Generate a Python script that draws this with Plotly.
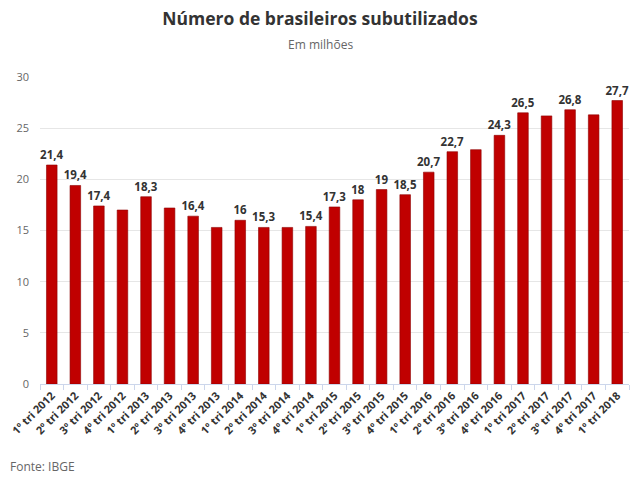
import plotly.graph_objects as go

categories = ["1º tri 2012", "2º tri 2012", "3º tri 2012", "4º tri 2012",
              "1º tri 2013", "2º tri 2013", "3º tri 2013", "4º tri 2013",
              "1º tri 2014", "2º tri 2014", "3º tri 2014", "4º tri 2014",
              "1º tri 2015", "2º tri 2015", "3º tri 2015", "4º tri 2015",
              "1º tri 2016", "2º tri 2016", "3º tri 2016", "4º tri 2016",
              "1º tri 2017", "2º tri 2017", "3º tri 2017", "4º tri 2017",
              "1º tri 2018"]
values = [21.4, 19.4, 17.4, 17.0,
          18.3, 17.2, 16.4, 15.3,
          16.0, 15.3, 15.3, 15.4,
          17.3, 18.0, 19.0, 18.5,
          20.7, 22.7, 22.9, 24.3,
          26.5, 26.2, 26.8, 26.3,
          27.7]
show_label = [1, 1, 1, 0,
              1, 0, 1, 0,
              1, 1, 0, 1,
              1, 1, 1, 1,
              1, 1, 0, 1,
              1, 0, 1, 0,
              1]
y_ticks = [0, 5, 10, 15, 20, 25, 30]

def fmt(v):
    return f"{v:g}".replace(".", ",")

labels = [fmt(v) if s else "" for v, s in zip(values, show_label)]

# page offset (default body margin) and figure size
O = 8
W, H = 640 - O, 479 - O
# plot area in page pixels -> figure pixels
L, R, T, B = 40 - O, 629 - O, 77 - O, 384 - O
PW, PH = R - L, B - T

fig = go.Figure()
fig.add_trace(go.Bar(
    x=categories, y=values,
    marker=dict(color="#c00000", line=dict(color="#8f0000", width=0.6)),
    text=labels, textposition="outside", cliponaxis=False,
    constraintext="none",
    textfont=dict(family="Open Sans", size=11.5, color="#333333", weight="bold"),
    hoverinfo="skip",
))

fig.update_layout(
    width=W, height=H,
    paper_bgcolor="white", plot_bgcolor="white",
    margin=dict(l=L, r=W - R, t=T, b=H - B, autoexpand=False),
    bargap=0.55,
    showlegend=False,
    title=dict(text="<b>Número de brasileiros subutilizados</b>",
               x=(320 - O) / W, xanchor="center",
               y=1 - (19 - O) / H, yanchor="middle",
               font=dict(family="Open Sans", size=17.5, color="#333333")),
    annotations=[
        dict(text="Em milhões", xref="paper", yref="paper",
             x=(320 - O - L) / PW, y=(B - (45 - O)) / PH,
             xanchor="center", yanchor="middle", showarrow=False,
             font=dict(family="Open Sans", size=12, color="#666666")),
        dict(text="Fonte: IBGE", xref="paper", yref="paper",
             x=(O - O - L) / PW, y=(B - (466 - O)) / PH,
             xanchor="left", yanchor="middle", showarrow=False,
             font=dict(family="Open Sans", size=12, color="#666666")),
    ],
    xaxis=dict(
        type="category", tickangle=-45, tickson="boundaries",
        ticks="outside", ticklen=5, tickcolor="#ccd6eb",
        showline=True, linecolor="#ccd6eb", linewidth=1,
        tickfont=dict(family="Open Sans", size=11, color="#333333", weight="bold"),
        showgrid=False, automargin=False,
    ),
    yaxis=dict(
        range=[0, 30], tickvals=y_ticks,
        showgrid=True, gridcolor="#e6e6e6", gridwidth=1,
        zeroline=False, ticks="", showline=False,
        tickfont=dict(family="Open Sans", size=11, color="#666666"),
        ticklabelstandoff=10, automargin=False,
    ),
)

fig.write_html("out.html")
